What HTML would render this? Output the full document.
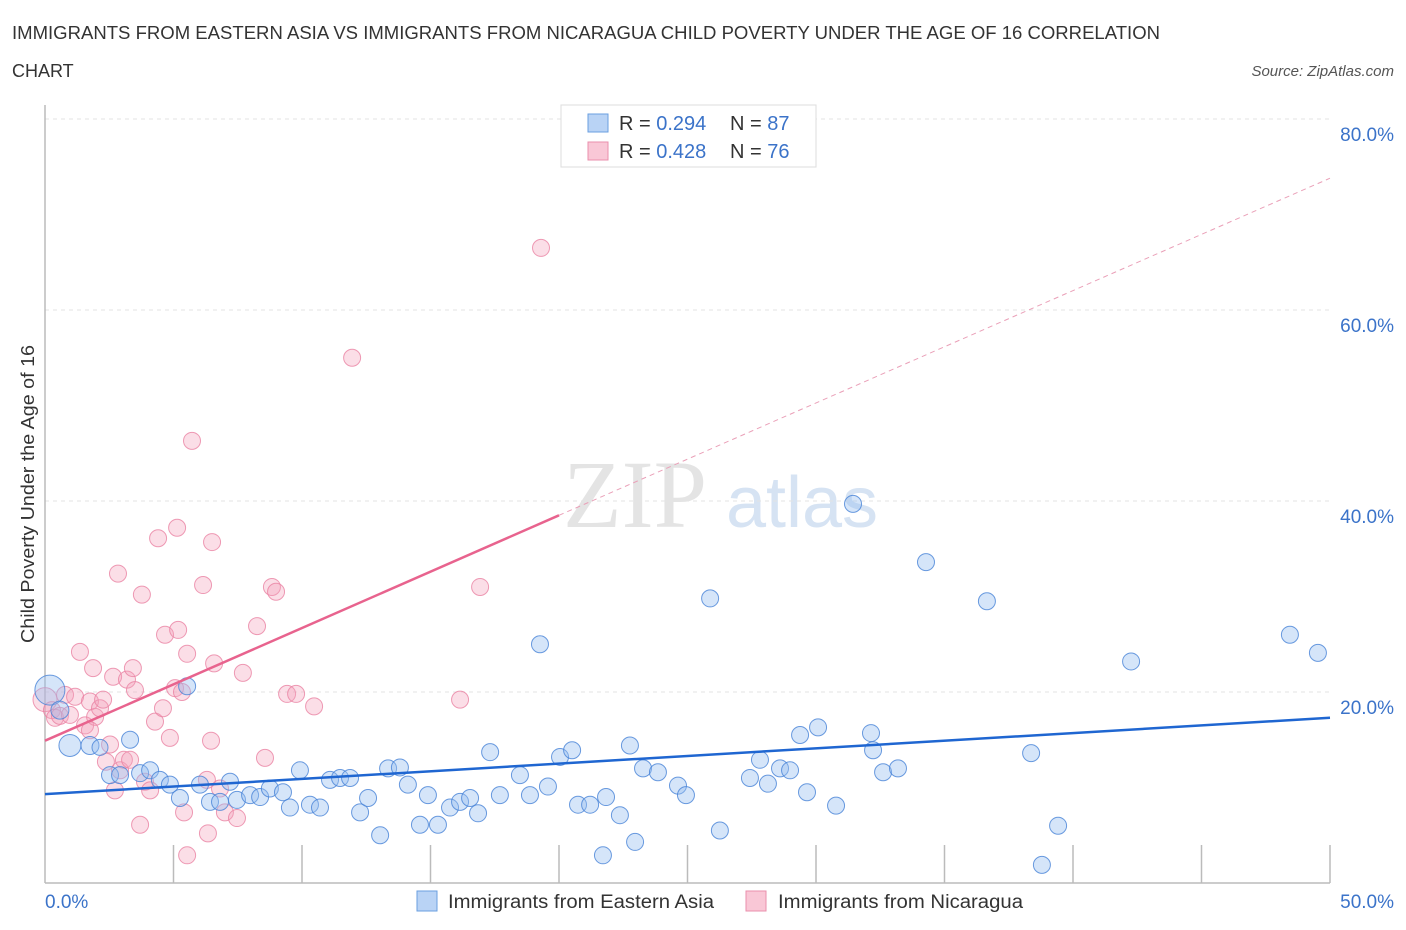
<!DOCTYPE html>
<html><head><meta charset="utf-8">
<style>
body{margin:0;background:#fff;width:1406px;height:930px;overflow:hidden;font-family:"Liberation Sans",sans-serif;}
svg{position:absolute;left:0;top:0}
</style></head>
<body>
<svg id="chart" width="1406" height="930">
<text x="12" y="39" font-size="18" fill="#333" textLength="1148" lengthAdjust="spacingAndGlyphs">IMMIGRANTS FROM EASTERN ASIA VS IMMIGRANTS FROM NICARAGUA CHILD POVERTY UNDER THE AGE OF 16 CORRELATION</text>
<text x="12" y="77" font-size="18" fill="#333">CHART</text>
<text x="1394" y="76" font-size="15" fill="#555" font-style="italic" text-anchor="end">Source: ZipAtlas.com</text>
<text x="635" y="527" font-size="96" fill="#e4e4e4" font-family="Liberation Serif" text-anchor="middle">ZIP</text>
<text x="802" y="527" font-size="72" fill="#d6e3f3" text-anchor="middle">atlas</text>
<text transform="translate(34,494) rotate(-90)" font-size="18" fill="#333" text-anchor="middle" textLength="298" lengthAdjust="spacingAndGlyphs">Child Poverty Under the Age of 16</text>
<g id="grid"></g><g id="axes"></g><g id="pts"></g><g id="lines"></g>
<g>
<rect x="561" y="105" width="255" height="62" fill="#fff" stroke="#ddd"/>
<rect x="588" y="114" width="20" height="18" fill="#b9d3f5" stroke="#6a9fe0"/>
<rect x="588" y="142" width="20" height="18" fill="#f9c7d6" stroke="#ea8fac"/>
<text x="619" y="130" font-size="20" fill="#333">R = <tspan fill="#3b73c9">0.294</tspan><tspan x="730">N = </tspan><tspan fill="#3b73c9">87</tspan></text>
<text x="619" y="158" font-size="20" fill="#333">R = <tspan fill="#3b73c9">0.428</tspan><tspan x="730">N = </tspan><tspan fill="#3b73c9">76</tspan></text>
</g>
<g>
<rect x="417" y="891" width="20" height="20" fill="#b9d3f5" stroke="#6a9fe0"/>
<text x="448" y="908" font-size="19" fill="#333" textLength="266" lengthAdjust="spacingAndGlyphs">Immigrants from Eastern Asia</text>
<rect x="746" y="891" width="20" height="20" fill="#f9c7d6" stroke="#ea8fac"/>
<text x="778" y="908" font-size="19" fill="#333" textLength="245" lengthAdjust="spacingAndGlyphs">Immigrants from Nicaragua</text>
</g>
</svg>
<script>
const yTicks=[20,40,60,80];
const xLabels=["0.0%","50.0%"];
const blueX=[0.19,0.58,0.97,1.75,2.14,2.53,2.92,3.31,3.70,4.09,4.47,4.86,5.25,5.53,6.03,6.42,6.81,7.20,7.47,7.98,8.37,8.75,9.26,9.53,9.92,10.31,10.70,11.09,11.48,11.87,12.26,12.57,13.04,13.35,13.81,14.12,14.59,14.90,15.29,15.76,16.15,16.54,16.85,17.32,17.70,18.48,18.87,19.26,19.57,20.04,20.51,20.74,21.21,21.71,21.83,22.37,22.76,22.96,23.27,23.85,24.63,24.94,25.88,26.26,27.43,27.82,28.13,28.60,28.99,29.38,29.65,30.08,30.78,31.44,32.14,32.22,32.61,33.19,34.28,36.65,38.37,38.79,39.42,42.26,48.44,49.53];
const blueY=[20.2,18.1,14.4,14.4,14.2,11.3,11.3,15.0,11.5,11.8,10.8,10.3,8.9,20.6,10.3,8.5,8.5,10.6,8.7,9.2,9.0,9.9,9.5,7.9,11.8,8.2,7.9,10.8,11.0,11.0,7.4,8.9,5.0,12.0,12.1,10.3,6.1,9.2,6.1,7.9,8.5,8.9,7.3,13.7,9.2,11.3,9.2,25.0,10.1,13.2,13.9,8.2,8.2,2.9,9.0,7.1,14.4,4.3,12.0,11.6,10.2,9.2,29.8,5.5,11.0,12.9,10.4,12.0,11.8,15.5,9.5,16.3,8.1,39.7,15.7,13.9,11.6,12.0,33.6,29.5,13.6,1.9,6.0,23.2,26.0,24.1];
const blueR=[15,9,11,9,8];
const pinkX=[0,0.27,0.39,0.58,0.78,0.97,1.17,1.36,1.56,1.75,1.87,1.95,2.14,2.26,2.37,2.53,2.65,2.72,2.84,2.92,3.07,3.19,3.31,3.42,3.50,3.70,3.77,3.89,4.09,4.28,4.40,4.59,4.67,4.86,5.06,5.14,5.18,5.33,5.41,5.53,5.53,5.72,6.15,6.30,6.34,6.46,6.50,6.58,6.81,7.00,7.47,7.70,8.25,8.56,8.83,8.99,9.42,9.77,10.47,11.95,16.15,16.93,19.30,1.75];
const pinkY=[19.2,18.1,17.3,17.5,19.7,17.6,19.5,24.2,16.5,19.0,22.5,17.4,18.3,19.2,12.7,14.5,21.6,9.7,32.4,11.8,12.9,21.3,12.9,22.5,20.2,6.1,30.2,10.6,9.7,16.9,36.1,18.3,26.0,15.2,20.4,37.2,26.5,20.0,7.4,24.0,2.9,46.3,31.2,10.8,5.2,14.9,35.7,23.0,9.9,7.4,6.8,22.0,26.9,13.1,31.0,30.5,19.8,19.8,18.5,55.0,19.2,31.0,66.5,16.0];
const blueLine=[9.3,17.3];
const pinkLine=[14.9,38.5,73.8];
const pinkSolidEnd=20;

const NS="http://www.w3.org/2000/svg";
const X=v=>45+v*25.7;
const Y=v=>883-v*9.55;
function mk(tag,attrs,parent){const e=document.createElementNS(NS,tag);for(const k in attrs)e.setAttribute(k,attrs[k]);document.getElementById(parent).appendChild(e);return e;}

const g0=mk('line',{x1:45,x2:1330,y1:119,y2:119,stroke:'#e3e3e3','stroke-dasharray':'4,4'},'grid');


yTicks.forEach(t=>{
 const l=mk('line',{x1:45,x2:1330,y1:Y(t),y2:Y(t),stroke:'#e3e3e3','stroke-dasharray':'4,4'},'grid');
 
 
 const tx=mk('text',{x:1394,y:Y(t)+22,'font-size':19,fill:'#3b73c9','text-anchor':'end'},'grid');
 tx.textContent=t.toFixed(1)+'%';
 
 
});
const ax=mk('line',{x1:45,x2:1330,y1:883,y2:883,stroke:'#bbb','stroke-width':1.5},'axes');


const ay=mk('line',{x1:45,x2:45,y1:105,y2:883,stroke:'#bbb','stroke-width':1.5},'axes');


for(let i=1;i<=10;i++){
 const t=mk('line',{x1:X(i*5),x2:X(i*5),y1:845,y2:883,stroke:'#bbb','stroke-width':1.5},'axes');
 
 
}
const xl0=mk('text',{x:45,y:908,'font-size':19,fill:'#3b73c9'},'axes');xl0.textContent=xLabels[0];


const xl1=mk('text',{x:1394,y:908,'font-size':19,fill:'#3b73c9','text-anchor':'end'},'axes');xl1.textContent=xLabels[1];



pinkX.forEach((x,i)=>{
 const c=mk('circle',{cx:X(x),cy:Y(pinkY[i]),r:i===0?12:8.5,fill:'rgba(244,160,185,0.35)',stroke:'rgba(234,130,163,0.8)','stroke-width':1},'pts');
 
 
});
blueX.forEach((x,i)=>{
 const c=mk('circle',{cx:X(x),cy:Y(blueY[i]),r:blueR[i]||8.5,fill:'rgba(150,190,240,0.4)',stroke:'rgba(70,130,215,0.8)','stroke-width':1},'pts');
 
 
});
const bl=mk('line',{x1:X(0),y1:Y(blueLine[0]),x2:X(50),y2:Y(blueLine[1]),stroke:'#1f66d1','stroke-width':2.5},'lines');


const pl=mk('line',{x1:X(0),y1:Y(pinkLine[0]),x2:X(pinkSolidEnd),y2:Y(pinkLine[1]),stroke:'#e8638e','stroke-width':2.5},'lines');


const pd=mk('line',{x1:X(pinkSolidEnd),y1:Y(pinkLine[1]),x2:X(50),y2:Y(pinkLine[2]),stroke:'#eaa0b8','stroke-width':1,'stroke-dasharray':'5,4'},'lines');


</script>
</body></html>
